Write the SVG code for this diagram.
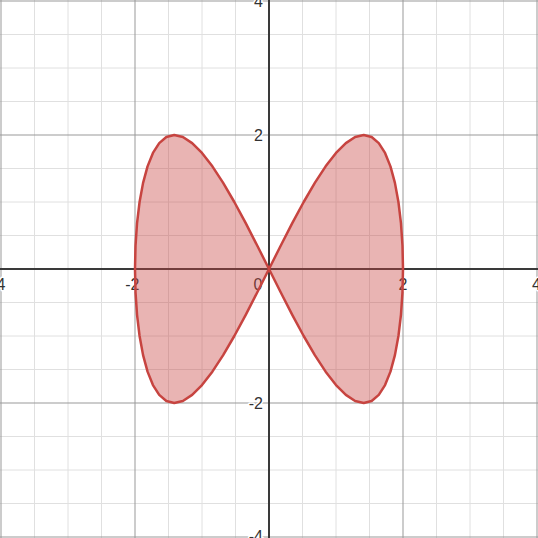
<svg xmlns="http://www.w3.org/2000/svg" width="538" height="538" viewBox="0 0 538 538">
<style>
.minor{stroke:#e0e0e0;stroke-width:1}
.major{stroke:#999;stroke-width:1}
.axis{stroke:#3a3a3a;stroke-width:2}
.lbl{font-family:"Liberation Sans",Arial,sans-serif;font-size:16px;fill:#333;stroke:#fff;stroke-width:3;paint-order:stroke;stroke-linejoin:round}
.curve{fill:#c74440;fill-opacity:0.4;stroke:#c74440;stroke-width:2.5;stroke-linejoin:round}
</style>
<rect width="538" height="538" fill="#fff"/>
<g id="grid">
<g class="minor">
<line x1="34.5" y1="0" x2="34.5" y2="538"/><line x1="68" y1="0" x2="68" y2="538"/><line x1="101.5" y1="0" x2="101.5" y2="538"/>
<line x1="168.5" y1="0" x2="168.5" y2="538"/><line x1="202" y1="0" x2="202" y2="538"/><line x1="235.5" y1="0" x2="235.5" y2="538"/>
<line x1="302.5" y1="0" x2="302.5" y2="538"/><line x1="336" y1="0" x2="336" y2="538"/><line x1="369.5" y1="0" x2="369.5" y2="538"/>
<line x1="436.5" y1="0" x2="436.5" y2="538"/><line x1="470" y1="0" x2="470" y2="538"/><line x1="503.5" y1="0" x2="503.5" y2="538"/>
<line y1="34.5" x1="0" y2="34.5" x2="538"/><line y1="68" x1="0" y2="68" x2="538"/><line y1="101.5" x1="0" y2="101.5" x2="538"/>
<line y1="168.5" x1="0" y2="168.5" x2="538"/><line y1="202" x1="0" y2="202" x2="538"/><line y1="235.5" x1="0" y2="235.5" x2="538"/>
<line y1="302.5" x1="0" y2="302.5" x2="538"/><line y1="336" x1="0" y2="336" x2="538"/><line y1="369.5" x1="0" y2="369.5" x2="538"/>
<line y1="436.5" x1="0" y2="436.5" x2="538"/><line y1="470" x1="0" y2="470" x2="538"/><line y1="503.5" x1="0" y2="503.5" x2="538"/>
</g>
<g class="major">
<line x1="1" y1="0" x2="1" y2="538"/><line x1="135" y1="0" x2="135" y2="538"/><line x1="403" y1="0" x2="403" y2="538"/><line x1="537" y1="0" x2="537" y2="538"/>
<line y1="1" x1="0" y2="1" x2="538"/><line y1="135" x1="0" y2="135" x2="538"/><line y1="403" x1="0" y2="403" x2="538"/><line y1="537" x1="0" y2="537" x2="538"/>
</g>
</g>
<g id="axes" class="axis">
<line x1="0" y1="269" x2="538" y2="269"/>
<line x1="269" y1="0" x2="269" y2="538"/>
</g>
<g id="labels" class="lbl">
<text x="5.5" y="290" text-anchor="end">-4</text>
<text x="139.5" y="290" text-anchor="end">-2</text>
<text x="262.5" y="290" text-anchor="end">0</text>
<text x="403" y="290" text-anchor="middle">2</text>
<text x="532" y="290" text-anchor="start">4</text>
<text x="263" y="7" text-anchor="end">4</text>
<text x="263" y="141" text-anchor="end">2</text>
<text x="263" y="409" text-anchor="end">-2</text>
<text x="263" y="542" text-anchor="end">-4</text>
</g>
<g id="curve">
<path class="curve" d="M269,269 L280.68,245.73 L292.27,223.17 L303.68,202 L314.83,182.87 L325.63,166.35 L336,152.95 L345.86,143.08 L355.13,137.04 L363.75,135 L371.65,137.04 L378.77,143.08 L385.05,152.95 L390.45,166.35 L394.92,182.87 L398.43,202 L400.96,223.17 L402.49,245.73 L403,269 L402.49,292.27 L400.96,314.83 L398.43,336 L394.92,355.13 L390.45,371.65 L385.05,385.05 L378.77,394.92 L371.65,400.96 L363.75,403 L355.13,400.96 L345.86,394.92 L336,385.05 L325.63,371.65 L314.83,355.13 L303.68,336 L292.27,314.83 L280.68,292.27 L269,269 L257.32,245.73 L245.73,223.17 L234.32,202 L223.17,182.87 L212.37,166.35 L202,152.95 L192.14,143.08 L182.87,137.04 L174.25,135 L166.35,137.04 L159.23,143.08 L152.95,152.95 L147.55,166.35 L143.08,182.87 L139.57,202 L137.04,223.17 L135.51,245.73 L135,269 L135.51,292.27 L137.04,314.83 L139.57,336 L143.08,355.13 L147.55,371.65 L152.95,385.05 L159.23,394.92 L166.35,400.96 L174.25,403 L182.87,400.96 L192.14,394.92 L202,385.05 L212.37,371.65 L223.17,355.13 L234.32,336 L245.73,314.83 L257.32,292.27 Z"/>
</g>
</svg>
